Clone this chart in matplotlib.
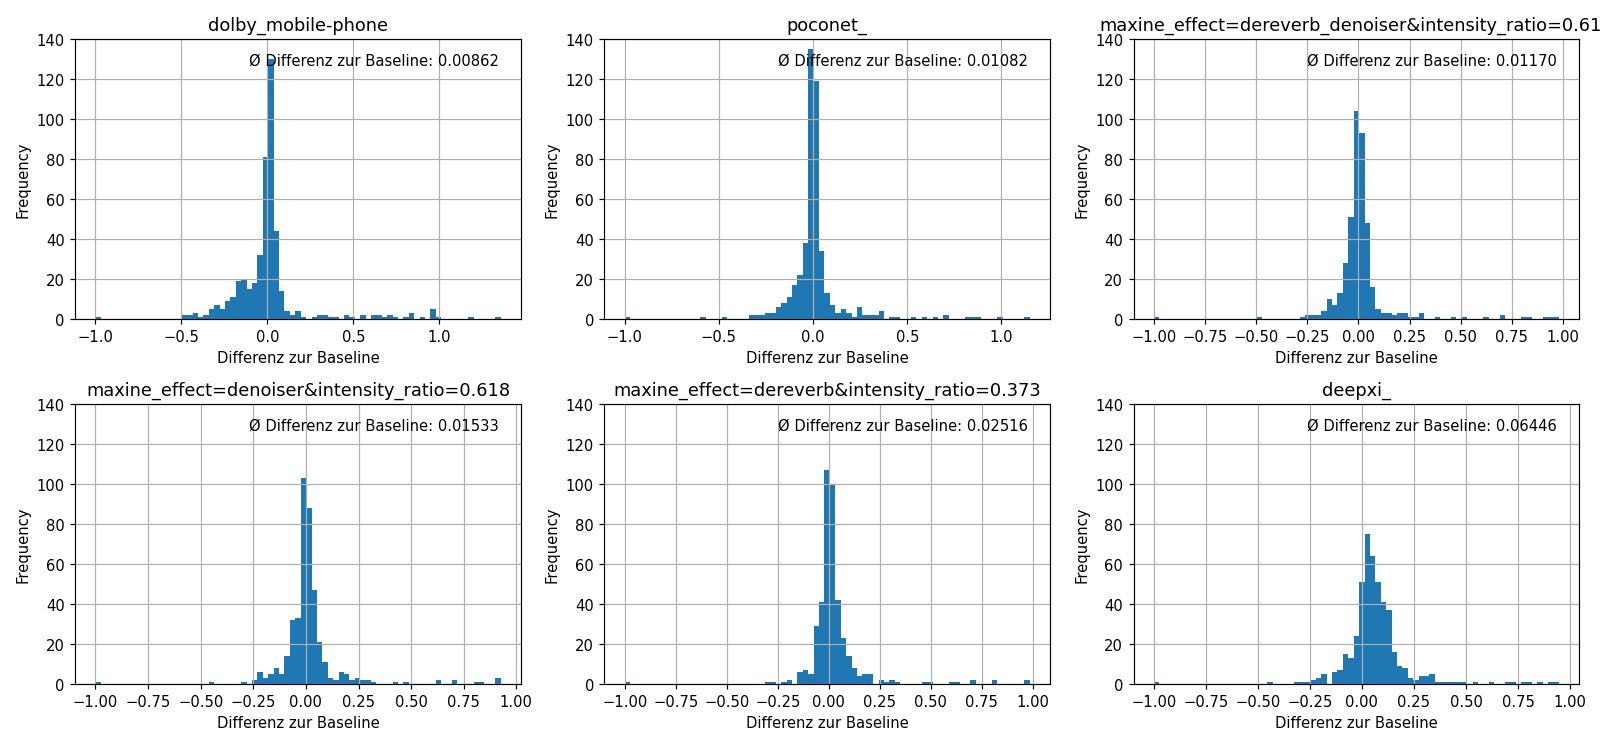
import numpy as np
import matplotlib
matplotlib.use("Agg")
import matplotlib.pyplot as plt

N_BINS = 75

titles = [
    "dolby_mobile-phone",
    "poconet_",
    "maxine_effect=dereverb_denoiser&intensity_ratio=0.618",
    "maxine_effect=denoiser&intensity_ratio=0.618",
    "maxine_effect=dereverb&intensity_ratio=0.373",
    "deepxi_",
]
mean_diffs = [0.00862, 0.01082, 0.01170, 0.01533, 0.02516, 0.06446]

# data range (min, max) of each histogram
ranges = [(-1.0, 1.356), (-1.0, 1.15), (-1.0, 0.98),
          (-1.0, 0.925), (-1.0, 0.985), (-1.0, 0.947)]

# bar heights, bin index -> count (other bins are 0)
counts_dolby = {0: 1, 16: 2, 17: 2, 18: 3, 19: 1, 20: 2, 21: 5, 22: 7, 23: 5,
                24: 9, 25: 11, 26: 19, 27: 20, 28: 15, 29: 18, 30: 32, 31: 81,
                32: 130, 33: 44, 34: 14, 35: 4, 36: 2, 37: 4, 38: 1, 40: 1,
                41: 2, 42: 2, 43: 1, 44: 1, 46: 2, 47: 1, 49: 2, 51: 2, 52: 2,
                53: 1, 54: 2, 55: 1, 57: 1, 58: 3, 60: 1, 62: 5, 63: 1, 69: 1,
                74: 1}
counts_poconet = {0: 1, 14: 1, 18: 1, 23: 2, 24: 2, 25: 2, 26: 3, 27: 3, 28: 6,
                  29: 8, 30: 11, 31: 17, 32: 22, 33: 38, 34: 135, 35: 119,
                  36: 34, 37: 13, 38: 7, 39: 3, 40: 5, 41: 3, 42: 1, 43: 6,
                  44: 2, 45: 2, 46: 2, 47: 4, 49: 1, 50: 1, 53: 1, 55: 1,
                  57: 1, 59: 2, 63: 1, 64: 1, 65: 1, 69: 1, 74: 1}
counts_maxine_dd = {0: 1, 19: 1, 27: 1, 28: 2, 29: 2, 30: 2, 31: 4, 32: 10,
                    33: 7, 34: 13, 35: 28, 36: 51, 37: 104, 38: 93, 39: 48,
                    40: 16, 41: 5, 42: 3, 43: 3, 44: 2, 45: 3, 46: 3, 47: 1,
                    48: 1, 49: 3, 52: 1, 55: 1, 57: 1, 61: 1, 64: 2, 68: 1,
                    69: 1, 72: 1, 73: 1, 74: 1}
counts_maxine_dn = {0: 1, 21: 1, 27: 1, 29: 2, 30: 6, 31: 3, 32: 5, 33: 8,
                    34: 5, 35: 14, 36: 32, 37: 33, 38: 103, 39: 88, 40: 47,
                    41: 21, 42: 11, 43: 3, 44: 2, 45: 6, 46: 5, 47: 2, 48: 3,
                    49: 2, 50: 2, 51: 1, 55: 1, 57: 1, 63: 2, 66: 2, 70: 1,
                    71: 1, 74: 3}
counts_maxine_dr = {0: 1, 26: 1, 27: 1, 29: 1, 30: 2, 32: 6, 33: 7, 34: 5,
                    35: 29, 36: 41, 37: 107, 38: 100, 39: 42, 40: 23, 41: 14,
                    42: 8, 43: 4, 44: 5, 45: 5, 47: 2, 48: 1, 49: 2, 50: 1,
                    55: 1, 56: 1, 60: 1, 61: 1, 64: 2, 68: 2, 74: 2}
counts_deepxi = {0: 1, 21: 1, 26: 1, 27: 1, 28: 1, 29: 2, 30: 3, 31: 5, 33: 6,
                 34: 7, 35: 15, 36: 13, 37: 24, 38: 51, 39: 75, 40: 64, 41: 51,
                 42: 41, 43: 37, 44: 16, 45: 9, 46: 8, 47: 3, 48: 2, 49: 4,
                 50: 4, 51: 5, 52: 1, 53: 1, 54: 1, 55: 1, 56: 1, 57: 1, 59: 1,
                 62: 1, 65: 1, 66: 1, 68: 1, 69: 1, 71: 1, 73: 1, 74: 1}

all_counts = [counts_dolby, counts_poconet, counts_maxine_dd,
              counts_maxine_dn, counts_maxine_dr, counts_deepxi]

DPI = 1600 / 15
fig, axes = plt.subplots(2, 3, figsize=(15, 7.003), dpi=DPI)
fig.subplots_adjust(left=0.047, right=0.987, top=0.947, bottom=0.083,
                    wspace=0.1876, hspace=0.303)

for ax, title, md, (lo, hi), cnt in zip(axes.flat, titles, mean_diffs,
                                        ranges, all_counts):
    edges = np.linspace(lo, hi, N_BINS + 1)
    heights = np.array([cnt.get(i, 0) for i in range(N_BINS)])
    ax.hist(edges[:-1], bins=edges, weights=heights, color="#1f77b4")
    ax.grid(True)
    ax.set_ylim(0, 140)
    ax.set_yticks(range(0, 141, 20))
    ax.set_title(title)
    ax.set_xlabel("Differenz zur Baseline")
    ax.set_ylabel("Frequency")
    ax.text(0.95, 0.95, f"Ø Differenz zur Baseline: {md:.5f}",
            transform=ax.transAxes, ha="right", va="top")

fig.savefig("out.png", dpi=DPI)
